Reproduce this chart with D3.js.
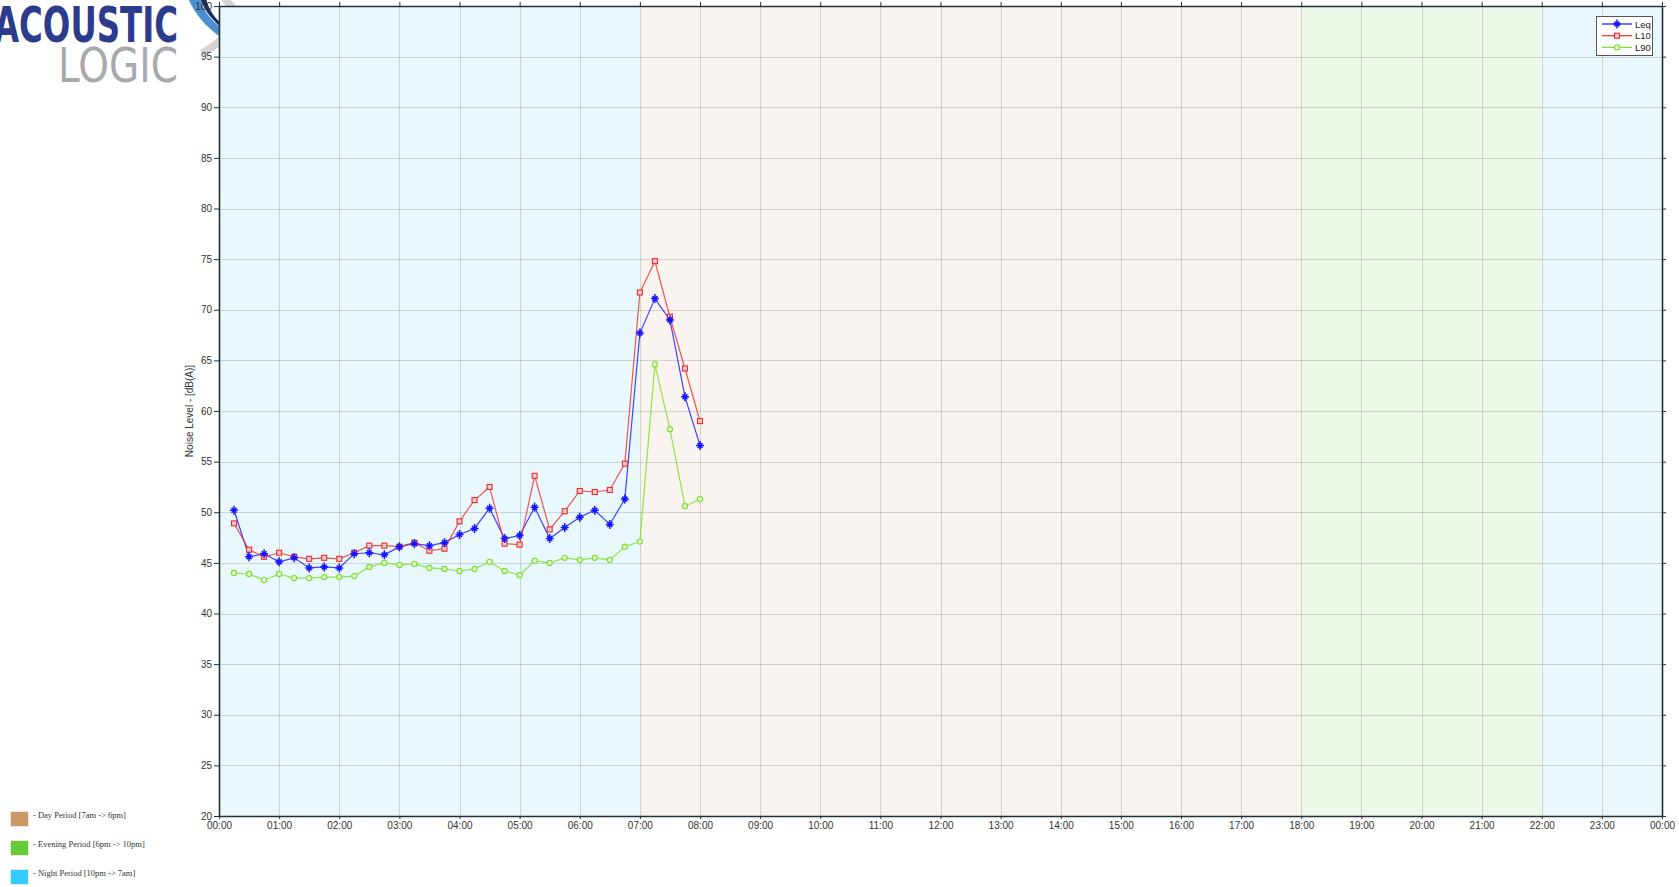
<!DOCTYPE html>
<html><head><meta charset="utf-8">
<script src="https://cdn.jsdelivr.net/npm/d3@7"></script>
<style>
html,body{margin:0;padding:0;background:#fff;overflow:hidden;}
svg{display:block;}
</style></head>
<body>
<svg id="c" width="1679" height="887"></svg>
<script>
// ---- data ----
const times = ["00:15","00:30","00:45","01:00","01:15","01:30","01:45","02:00","02:15","02:30","02:45","03:00","03:15","03:30","03:45","04:00","04:15","04:30","04:45","05:00","05:15","05:30","05:45","06:00","06:15","06:30","06:45","07:00","07:15","07:30","07:45","08:00"];
const leq = [50.2,45.6,45.9,45.1,45.5,44.5,44.6,44.5,45.9,46.0,45.8,46.6,46.9,46.7,47.0,47.8,48.4,50.4,47.4,47.7,50.5,47.4,48.5,49.5,50.2,48.8,51.3,67.7,71.1,69.0,61.4,56.6];
const l10 = [48.9,46.3,45.6,46.0,45.6,45.4,45.5,45.4,46.0,46.7,46.7,46.6,47.0,46.2,46.4,49.1,51.2,52.5,46.9,46.8,53.6,48.3,50.1,52.1,52.0,52.2,54.8,71.7,74.8,69.3,64.2,59.0];
const l90 = [44.0,43.9,43.3,43.9,43.5,43.5,43.6,43.6,43.7,44.6,45.0,44.8,44.9,44.5,44.4,44.2,44.4,45.1,44.2,43.8,45.2,45.0,45.5,45.3,45.5,45.3,46.6,47.1,64.6,58.2,50.6,51.3];
const yTicks = [20,25,30,35,40,45,50,55,60,65,70,75,80,85,90,95,100];
const xTickLabels = ["00:00","01:00","02:00","03:00","04:00","05:00","06:00","07:00","08:00","09:00","10:00","11:00","12:00","13:00","14:00","15:00","16:00","17:00","18:00","19:00","20:00","21:00","22:00","23:00","00:00"];
const periods = [
  {name:"night", from:0, to:7},
  {name:"day", from:7, to:18},
  {name:"evening", from:18, to:22},
  {name:"night", from:22, to:24}
];
const periodLegend = [
  {name:"day", label:"- Day Period [7am -> 6pm]"},
  {name:"evening", label:"- Evening Period [6pm -> 10pm]"},
  {name:"night", label:"- Night Period [10pm -> 7am]"}
];
const seriesNames = ["Leq","L10","L90"];

// ---- styles ----
const bg = {night:"#e9f8fd", day:"#f9f4ef", evening:"#eef8e8"};
const sw = {night:"#33ccff", day:"#cc9966", evening:"#66cc33"};
const col = {Leq:"#1414ff", L10:"#ee2a2a", L90:"#77e022"};

const svg = d3.select("#c");
const L=219, R=1662, T=6, B=816;
const toH = s => { const [h,m]=s.split(":").map(Number); return h+m/60; };
const x = d3.scaleLinear().domain([0,24]).range([L,R]);
const y = d3.scaleLinear().domain([20,100]).range([B,T]);

// logo swoosh (behind plot)
const logo = svg.append("g");
logo.append("path").attr("d","M228,-2 C238,6 244,14 240,24 C232,40 218,48 204,56 L200,50 C214,42 226,32 230,22 C233,12 226,4 218,-2 Z").attr("fill","#d4d4d8");
logo.append("path").attr("d","M188,-2 C194,12 204,26 222,38 L224,30 C210,20 203,10 200,-2 Z").attr("fill","#4a90d0");
logo.append("path").attr("d","M200,-2 C204,10 212,20 224,30 L224,26 C214,18 208,8 206,-2 Z").attr("fill","#1a2a6a");
logo.append("text").attr("x",-6).attr("y",42).attr("font-family","DejaVu Sans, sans-serif").attr("font-weight","bold")
  .attr("font-size",50).attr("textLength",184).attr("lengthAdjust","spacingAndGlyphs").attr("fill","#2d3b8c").text("ACOUSTIC");
logo.append("text").attr("x",58).attr("y",82).attr("font-family","DejaVu Sans, sans-serif")
  .attr("font-size",48).attr("textLength",120).attr("lengthAdjust","spacingAndGlyphs").attr("fill","#a9a9ad").text("LOGIC");

// backgrounds
svg.append("g").selectAll("rect").data(periods).join("rect")
  .attr("x",d=>x(d.from)).attr("width",d=>x(d.to)-x(d.from))
  .attr("y",T).attr("height",B-T).attr("fill",d=>bg[d.name]);

// grid
const grid = svg.append("g").attr("stroke","#000").attr("stroke-opacity",0.14).attr("stroke-width",1);
d3.range(1,24).forEach(h=>grid.append("line").attr("x1",Math.round(x(h))+0.5).attr("x2",Math.round(x(h))+0.5).attr("y1",T).attr("y2",B));
yTicks.slice(1,-1).forEach(v=>grid.append("line").attr("y1",Math.round(y(v))+0.5).attr("y2",Math.round(y(v))+0.5).attr("x1",L).attr("x2",R));

// axes
const axFont = "Liberation Sans, Arial, sans-serif";
const yAx = svg.append("g").attr("transform",`translate(${L},0)`)
  .call(d3.axisLeft(y).tickValues(yTicks).tickSize(5).tickSizeOuter(0).tickPadding(2));
const xAx = svg.append("g").attr("transform",`translate(0,${B})`)
  .call(d3.axisBottom(x).tickValues(d3.range(0,25)).tickFormat((d,i)=>xTickLabels[i]).tickSize(3).tickSizeOuter(0).tickPadding(3));
const topAx = svg.append("g").attr("transform",`translate(0,${T})`)
  .call(d3.axisTop(x).tickValues(d3.range(0,25)).tickFormat("").tickSize(4).tickSizeOuter(0));
const rAx = svg.append("g").attr("transform",`translate(${R},0)`)
  .call(d3.axisRight(y).tickValues(yTicks).tickFormat("").tickSize(4).tickSizeOuter(0));
[yAx,xAx,topAx,rAx].forEach(g=>{
  g.selectAll("path").attr("stroke","#223038").attr("stroke-width",1.6);
  g.selectAll("line").attr("stroke","#223038");
  g.selectAll("text").attr("font-family",axFont).attr("font-size",10).attr("fill","#333");
});

svg.append("text").attr("transform",`translate(193,${(T+B)/2}) rotate(-90)`)
  .attr("text-anchor","middle").attr("font-family",axFont).attr("font-size",10).attr("fill","#333")
  .text("Noise Level - [dB(A)]");

// series
const data = {Leq:leq, L10:l10, L90:l90};
const line = d3.line().x((d,i)=>x(toH(times[i]))).y(d=>y(d));
seriesNames.forEach(n=>{
  svg.append("path").datum(data[n]).attr("d",line).attr("fill","none")
    .attr("stroke",col[n]).attr("stroke-width",1.2).attr("stroke-opacity",0.8);
});
function marker(g,n,cx,cy){
  if(n==="Leq"){
    g.append("path").attr("d",`M${cx-4},${cy}H${cx+4}M${cx},${cy-4.5}V${cy+4.5}M${cx-2.5},${cy-2.5}L${cx+2.5},${cy+2.5}M${cx-2.5},${cy+2.5}L${cx+2.5},${cy-2.5}`)
     .attr("stroke",col[n]).attr("stroke-width",1.5).attr("fill","none");
  } else if(n==="L10"){
    g.append("rect").attr("x",cx-2.5).attr("y",cy-2.5).attr("width",5).attr("height",5)
     .attr("fill","#f8d0d0").attr("stroke",col[n]).attr("stroke-width",1.1);
  } else {
    g.append("circle").attr("cx",cx).attr("cy",cy).attr("r",2.6)
     .attr("fill","#e8f8d8").attr("stroke",col[n]).attr("stroke-width",1.1);
  }
}
["L90","L10","Leq"].forEach(n=>{
  const g=svg.append("g");
  data[n].forEach((v,i)=>marker(g,n,x(toH(times[i])),y(v)));
});

// series legend
const lg = svg.append("g");
lg.append("rect").attr("x",1596.5).attr("y",16.5).attr("width",56).attr("height",39)
  .attr("fill","#fff").attr("stroke","#555").attr("stroke-width",1);
seriesNames.forEach((n,i)=>{
  const yy = 24 + i*11.7;
  lg.append("line").attr("x1",1602).attr("x2",1632).attr("y1",yy).attr("y2",yy).attr("stroke",col[n]).attr("stroke-width",1.2);
  marker(lg,n,1617,yy);
  lg.append("text").attr("x",1635).attr("y",yy+3.5).attr("font-family",axFont).attr("font-size",9.5).attr("fill","#222").text(n);
});

// period legend
const pl = svg.append("g");
periodLegend.forEach((p,i)=>{
  const yy = 811 + i*29;
  pl.append("rect").attr("x",10.5).attr("y",yy+0.5).attr("width",18).attr("height",15)
    .attr("fill",sw[p.name]).attr("stroke","#e8e8e8").attr("stroke-width",1);
  pl.append("text").attr("x",33).attr("y",yy+6.5).attr("font-family","Liberation Serif, serif")
    .attr("font-size",8.5).attr("fill","#333").text(p.label);
});

// title (cut off at the top edge, as in the reference)
svg.append("text").attr("x",900).attr("y",-3).attr("text-anchor","middle")
  .attr("font-family","Liberation Sans, Arial, sans-serif").attr("font-weight","bold").attr("font-size",16).attr("fill","#111")
  .text("Noise Survey - Graph - Monday, 1 January 2024 - Location (Unattended)");
</script>
</body></html>
